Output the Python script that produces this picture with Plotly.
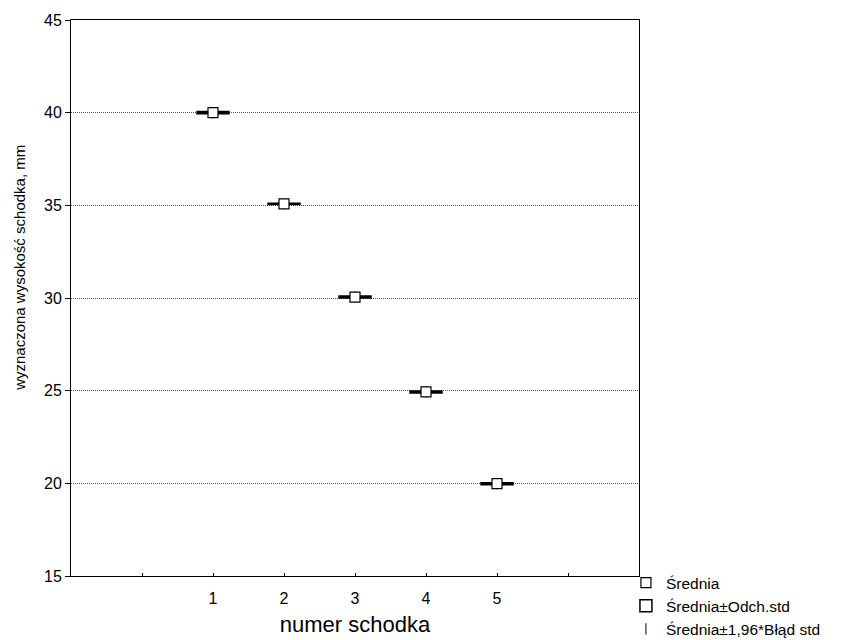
import plotly.graph_objects as go

steps = [1, 2, 3, 4, 5]
means = [40.0, 35.08, 30.05, 24.93, 19.98]
sds = [0.06, 0.035, 0.055, 0.05, 0.05]
ci = [0.03, 0.02, 0.03, 0.025, 0.025]  # 1.96*standard error
x_tickvals = [0, 1, 2, 3, 4, 5, 6]
x_ticktext = ["", "1", "2", "3", "4", "5", ""]
y_tickvals = [15, 20, 25, 30, 35, 40, 45]

FONT = "Liberation Sans, Arial, sans-serif"

fig = go.Figure()

fig.add_trace(go.Box(
    x=steps,
    q1=[m - s for m, s in zip(means, sds)],
    median=means,
    q3=[m + s for m, s in zip(means, sds)],
    lowerfence=[m - s for m, s in zip(means, sds)],
    upperfence=[m + s for m, s in zip(means, sds)],
    width=0.45,
    fillcolor="white",
    line=dict(color="black", width=1.5),
    boxpoints=False,
    name="Średnia±Odch.std",
    legendrank=2,
))

fig.add_trace(go.Scatter(
    x=steps, y=means, mode="markers",
    marker=dict(symbol="line-ns-open", size=8, color="black", line=dict(color="black", width=1)),
    error_y=dict(type="data", array=ci, color="black", thickness=1, width=4),
    name="Średnia±1,96*Błąd std",
    legendrank=3,
))

fig.add_trace(go.Scatter(
    x=steps, y=means, mode="markers",
    marker=dict(symbol="square", size=10, color="white", line=dict(color="black", width=1.2)),
    name="Średnia",
    legendrank=1,
))

# page body has an 8px margin, so the figure is sized/offset to compensate
fig.update_layout(
    width=840, height=632,
    margin=dict(l=63, r=209, t=12, b=64, autoexpand=False),
    paper_bgcolor="white", plot_bgcolor="white",
    font=dict(family=FONT, size=16, color="black"),
    showlegend=True,
    legend=dict(x=0.977, y=0.018, xanchor="left", yanchor="top",
                font=dict(size=15.5), bgcolor="rgba(0,0,0,0)",
                tracegroupgap=0, itemsizing="trace"),
    annotations=[dict(
        text="wyznaczona wysokość schodka, mm", textangle=-90,
        xref="paper", yref="paper", x=-0.09, y=0.554,
        xanchor="center", yanchor="middle", showarrow=False,
        font=dict(size=15, family=FONT))],
)

fig.update_xaxes(
    range=[-1, 7], tickvals=x_tickvals, ticktext=x_ticktext,
    ticks="inside", ticklen=3, tickcolor="black",
    showline=True, linecolor="black", linewidth=1, mirror=True,
    showgrid=False, zeroline=False, ticklabelstandoff=8,
    title=dict(text="numer schodka", font=dict(size=22), standoff=10),
)

fig.update_yaxes(
    range=[15, 45], tickvals=y_tickvals,
    ticks="outside", ticklen=5, tickcolor="black",
    showline=True, linecolor="black", linewidth=1, mirror=True,
    showgrid=True, gridcolor="#555555", gridwidth=1, griddash="1px,1px",
    zeroline=False,
)

fig.write_html("out.html")
